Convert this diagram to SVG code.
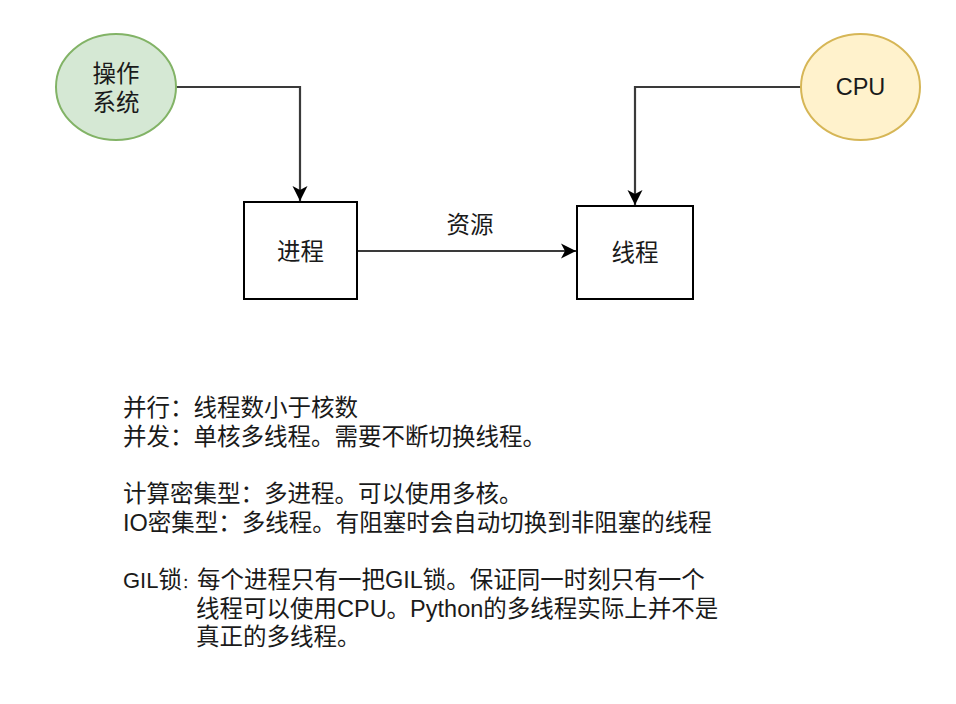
<svg xmlns="http://www.w3.org/2000/svg" width="956" height="704" viewBox="0 0 956 704">
<style>
text{font-family:"Liberation Sans","Noto Sans CJK SC",sans-serif;font-size:23.5px;fill:#1a1a1a}
.c{text-anchor:middle}
.box{fill:#fff;stroke:#000;stroke-width:2}
.edge{fill:none;stroke:#3a3a3a;stroke-width:2.2}
</style>
<defs>
<marker id="arr" markerUnits="userSpaceOnUse" markerWidth="16" markerHeight="16" refX="15" refY="8" orient="auto">
<path d="M0,0.5 L15,8 L0,15.5 L4,8 Z" fill="#000"/>
</marker>
</defs>
<rect width="956" height="704" fill="#fff"/>
<g id="connectors">
<path class="edge" d="M176,87 H300 V201" marker-end="url(#arr)"/>
<path class="edge" d="M801,87 H635 V205" marker-end="url(#arr)"/>
<path class="edge" d="M357,251 H576" marker-end="url(#arr)"/>
<text class="c" x="470" y="233">资源</text>
</g>
<g id="os">
<ellipse cx="116" cy="87" rx="60" ry="53" fill="#d5e8d4" stroke="#82b366" stroke-width="2"/>
<text class="c" x="116" y="82">操作</text>
<text class="c" x="116" y="111">系统</text>
</g>
<g id="cpu">
<ellipse cx="860.5" cy="87" rx="59.5" ry="53" fill="#fff2cc" stroke="#d6b656" stroke-width="2"/>
<text class="c" x="860.5" y="95">CPU</text>
</g>
<g id="process">
<rect class="box" x="244" y="202" width="113" height="97"/>
<text class="c" x="300.5" y="260">进程</text>
</g>
<g id="thread">
<rect class="box" x="577" y="206" width="116" height="93"/>
<text class="c" x="635" y="261">线程</text>
</g>
<g id="notes">
<text x="123" y="416">并行：线程数小于核数</text>
<text x="123" y="445">并发：单核多线程。需要不断切换线程。</text>
<text x="123" y="502">计算密集型：多进程。可以使用多核。</text>
<text x="123" y="531">IO密集型：多线程。有阻塞时会自动切换到非阻塞的线程</text>
<text x="123" y="588"><tspan style="font-size:22px">GIL</tspan>锁<tspan style="font-size:15px">：</tspan>每个进程只有一把GIL锁。保证同一时刻只有一个</text>
<text x="196" y="617">线程可以使用CPU。Python的多线程实际上并不是</text>
<text x="196" y="645">真正的多线程。</text>
</g>
</svg>
